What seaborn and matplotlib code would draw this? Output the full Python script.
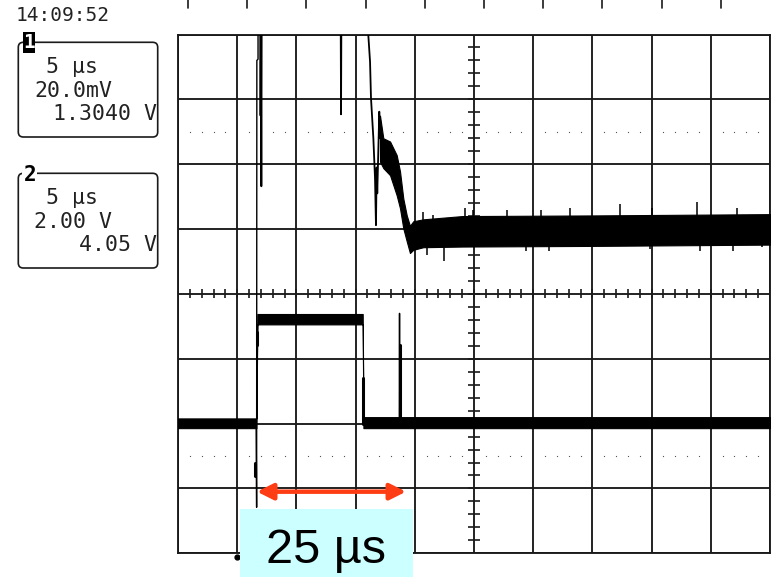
import numpy as np
import pandas as pd
import seaborn as sns
import matplotlib.pyplot as plt
from matplotlib.patches import FancyBboxPatch, Rectangle
from matplotlib.lines import Line2D
from matplotlib.transforms import Affine2D, blended_transform_factory

W, H = 771, 577

# screen data: time in µs (5 µs/div), amplitude in screen divisions
# channel 1, thin trace pieces (seg = piece id), 4.3 = off screen above
ch1_seg = [0, 0, 0, 0, 0, 1, 1, 1, 2, 2, 2, 2, 2, 2, 2, 2, 2, 2, 2]
ch1_t = [6.95, 6.97, 7.00, 7.04, 7.07,
         13.74, 13.77, 13.80,
         16.0, 16.07, 16.22, 16.30, 16.50, 16.64, 16.72, 16.78, 16.83, 17.0, 17.06]
ch1_v = [4.3, 2.75, 4.3, 1.66, 4.3,
         4.3, 2.77, 4.3,
         4.3, 4.0, 3.58, 3.02, 2.40, 1.78, 1.06, 1.95, 1.55, 2.81, 2.40]

# channel 1 noise envelope after the drop
ch1_band_t = [17.06, 17.34, 17.91, 18.47, 18.75, 19.03, 19.32, 19.59, 19.87, 20.72, 24.0, 35.0, 50.0]
ch1_band_hi = [2.75, 2.40, 2.35, 2.14, 1.89, 1.47, 1.21, 1.05, 1.12, 1.15, 1.20, 1.21, 1.23]
ch1_band_lo = [2.04, 1.94, 1.83, 1.52, 1.32, 1.01, 0.81, 0.63, 0.68, 0.72, 0.73, 0.74, 0.76]

# single noise peaks sticking out of the channel 1 band
peak_t = [20.7, 21.5, 24.2, 24.9, 27.8, 30.7, 33.1, 37.3, 40.0, 43.8, 47.2,
          21.0, 22.5, 29.4, 31.3, 39.9, 44.1, 46.9, 49.3]
peak_v = [1.27, 1.21, 1.32, 1.30, 1.29, 1.30, 1.33, 1.38, 1.32, 1.41, 1.32,
          0.60, 0.50, 0.655, 0.655, 0.70, 0.655, 0.655, 0.73]
peak_base = [1.1] * 11 + [0.8] * 8

# channel 2 noise envelope (gate pulse)
ch2_t = [0.0, 6.62, 6.70, 15.60, 15.66, 50.0]
ch2_hi = [-1.92, -1.92, -0.31, -0.31, -1.90, -1.90]
ch2_lo = [-2.07, -2.07, -0.47, -0.47, -2.07, -2.07]

# channel 2 glitches (thin)
ch2_seg = [0, 0, 0, 0, 0, 1, 1, 1]
ch2_line_t = [6.60, 6.64, 6.66, 6.76, 6.76, 18.69, 18.71, 18.73]
ch2_line_v = [-2.0, -3.29, 3.60, 3.62, 4.3, -2.0, -0.30, -2.0]

# short heavy strokes on channel 2
thick_seg = [0, 0, 1, 1, 2, 2, 3, 3]
thick_t = [6.50, 6.50, 6.70, 6.70, 15.63, 15.63, 18.71, 18.71]
thick_v = [-2.61, -2.81, -0.58, -0.79, -1.30, -2.0, -0.79, -2.0]

trig_t, trig_v = 5.0, -4.05
span_start, span_end, span_level = 6.67, 19.26, -3.05
span_label = '25 µs'

time_stamp = '14:09:52'
ch_labels = ['1', '2']
ch_lines = [['5 µs', '20.0mV', '1.3040 V'],
            ['5 µs', '2.00 V', '4.05 V']]

sns.set_style('white')
plt.rcParams['font.family'] = ['DejaVu Sans Mono', 'DejaVu Sans']

fig = plt.figure(figsize=(W / 100, H / 100), dpi=100)
ax = fig.add_axes([178 / W, (H - 553.3) / H, 592 / W, (553.3 - 34.5) / H])

# pixel transform (x from left, y from top of image)
px = Affine2D().scale(1 / W, -1 / H).translate(0, 1) + fig.transFigure

gcol = '#1a1a1a'
ax.set_xlim(0, 50)
ax.set_ylim(-4, 4)
ax.set_xticks(np.arange(0, 51, 5))
ax.set_yticks(np.arange(-4, 5, 1))
ax.tick_params(length=0, labelbottom=False, labelleft=False)
ax.grid(True, color=gcol, lw=1.35)
ax.set_axisbelow(True)
for s in ax.spines.values():
    s.set_color(gcol)
    s.set_linewidth(1.35)

# centre cross ticks
ax.hlines(np.arange(-4, 4.01, 0.2), 24.5, 25.5, color=gcol, lw=1.2, zorder=1)
ax.vlines(np.arange(0, 50.01, 1.0), -0.07, 0.07, color=gcol, lw=1.2, zorder=1)
# dotted reference rows
dots = np.array([x for x in np.arange(1, 50, 1.0) if x % 5 != 0])
for yy in (2.5, -2.5):
    ax.plot(dots, np.full_like(dots, yy), ls='none', marker='s', ms=0.8,
            mew=0, color='#555555', zorder=1)

# traces
ax.fill_between(ch1_band_t, ch1_band_lo, ch1_band_hi, color='black', lw=0.8, zorder=3)
ax.vlines(peak_t, peak_base, peak_v, color='black', lw=1.1, zorder=3)
ax.fill_between(ch2_t, ch2_lo, ch2_hi, color='black', lw=0.8, zorder=3)
df1 = pd.DataFrame({'t': ch1_t, 'v': ch1_v, 'seg': ch1_seg})
sns.lineplot(data=df1, x='t', y='v', units='seg', estimator=None, sort=False,
             color='black', lw=1.3, ax=ax, zorder=3)
df2 = pd.DataFrame({'t': ch2_line_t, 'v': ch2_line_v, 'seg': ch2_seg})
sns.lineplot(data=df2, x='t', y='v', units='seg', estimator=None, sort=False,
             color='black', lw=1.0, ax=ax, zorder=3)
df3 = pd.DataFrame({'t': thick_t, 'v': thick_v, 'seg': thick_seg})
sns.lineplot(data=df3, x='t', y='v', units='seg', estimator=None, sort=False,
             color='black', lw=2.2, ax=ax, zorder=3)
ax.set_xlabel('')
ax.set_ylabel('')
ax.plot([trig_t], [trig_v], marker='o', ms=3.5, color='black', clip_on=False, zorder=4)

# span arrow
ax.annotate('', xy=(span_start, span_level), xytext=(span_end, span_level),
            arrowprops=dict(arrowstyle='<|-|>', color='#FF3D14', lw=3.2,
                            mutation_scale=24, shrinkA=0, shrinkB=0), zorder=5)

# label patch
fig.add_artist(Rectangle((240, 509), 172.7, 70, transform=px, color='#CCFFFF',
                         lw=0, zorder=5))
fig.text(326, 563.3, span_label, transform=px, ha='center', va='baseline',
         fontsize=35, family='Liberation Sans', color='black', zorder=6)

# ticks of the cut-off top scale
tb = blended_transform_factory(ax.transData, px)
for k in range(10):
    fig.add_artist(Line2D([0.85 + 5 * k] * 2, [0, 8], transform=tb, color=gcol, lw=1.2))

fig.text(16, 21, time_stamp, transform=px, fontsize=14, color='#222222', va='baseline')

# channel boxes
box_tops = [42.3, 173.3]
for i, top in enumerate(box_tops):
    fig.add_artist(FancyBboxPatch((18.3, top), 139.4, 94.7, transform=px,
                                  boxstyle='round,pad=0,rounding_size=5',
                                  fc='none', ec=gcol, lw=1.2, zorder=2))
    b = [top + 31, top + 54.4, top + 77.7]
    l1, l2, l3 = ch_lines[i]
    fig.text(46, b[0], l1, transform=px, fontsize=15.5, va='baseline', color='#222222')
    fig.text(34, b[1], l2, transform=px, fontsize=15.5, va='baseline', color='#222222')
    fig.text(157, b[2], l3, transform=px, fontsize=15.5, va='baseline', ha='right',
             color='#222222')

fig.add_artist(Rectangle((23, 32), 12, 21, transform=px, color='black', lw=0, zorder=3))
fig.text(29, 43, ch_labels[0], transform=px, fontsize=14, fontweight='bold',
         color='white', ha='center', va='center', zorder=4)
fig.add_artist(Rectangle((22, 164), 15, 20, transform=px, color='white', lw=0, zorder=3))
fig.text(30, 175, ch_labels[1], transform=px, fontsize=15, fontweight='bold',
         color='black', ha='center', va='center', zorder=4)

fig.savefig('out.png', dpi=100)
